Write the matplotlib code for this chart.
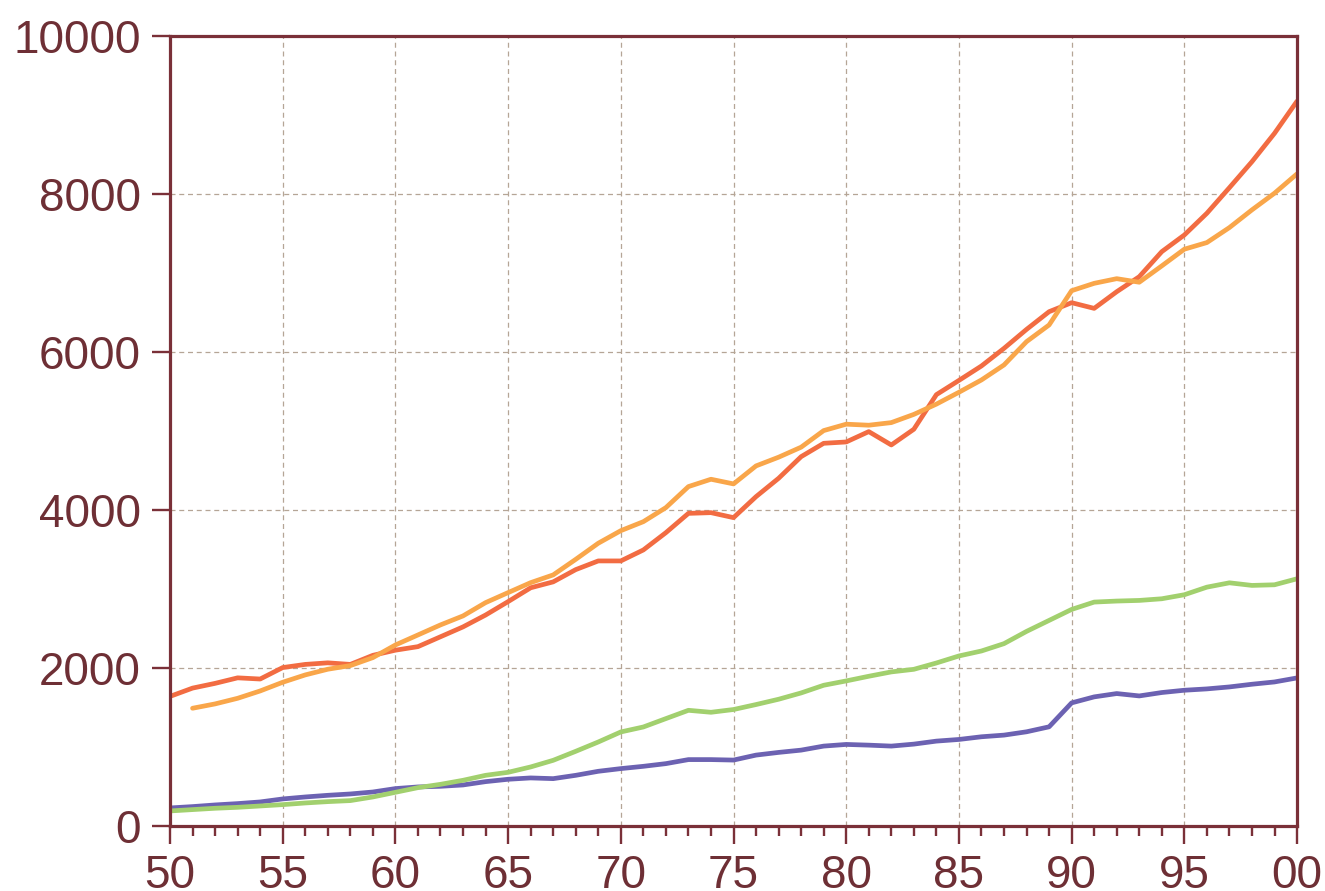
import matplotlib
matplotlib.use("Agg")
import matplotlib.pyplot as plt
from matplotlib.ticker import MultipleLocator, FixedLocator

plt.rcParams['font.family'] = ['Liberation Sans', 'DejaVu Sans']

years = list(range(1950, 2001))
years_orange = list(range(1951, 2001))

red_series = [1640, 1745, 1805, 1875, 1860, 2005, 2045, 2065, 2045, 2160,
              2225, 2270, 2395, 2520, 2670, 2840, 3015, 3090, 3245, 3355,
              3355, 3494, 3713, 3957, 3966, 3903, 4169, 4401, 4675, 4844,
              4861, 4992, 4823, 5022, 5460, 5640, 5823, 6046, 6286, 6510,
              6624, 6552, 6763, 6953, 7270, 7481, 7756, 8080, 8409, 8768,
              9175]

orange_series = [1490, 1545, 1616, 1709, 1819, 1912, 1984, 2030, 2131,
                 2291, 2418, 2545, 2659, 2827, 2954, 3080, 3178, 3375, 3579,
                 3738, 3852, 4030, 4296, 4389, 4330, 4558, 4668, 4795, 5005,
                 5086, 5073, 5106, 5210, 5340, 5490, 5646, 5836, 6131, 6342,
                 6776, 6869, 6928, 6883, 7090, 7301, 7385, 7575, 7799, 8010,
                 8255]

green_series = [190, 207, 224, 236, 253, 270, 291, 308, 321, 367,
                426, 485, 527, 578, 641, 679, 747, 831, 945, 1063,
                1190, 1253, 1359, 1464, 1439, 1474, 1537, 1604, 1684, 1781,
                1836, 1895, 1950, 1983, 2063, 2152, 2215, 2308, 2463, 2602,
                2741, 2834, 2847, 2855, 2876, 2927, 3023, 3078, 3045, 3053,
                3129]

purple_series = [228, 245, 266, 283, 304, 342, 367, 388, 405, 430,
                 473, 494, 502, 519, 561, 591, 608, 599, 641, 692,
                 726, 755, 789, 840, 840, 834, 897, 931, 960, 1011,
                 1032, 1023, 1011, 1036, 1074, 1095, 1129, 1150, 1192, 1255,
                 1558, 1634, 1676, 1646, 1689, 1718, 1735, 1760, 1794, 1823,
                 1874]

x_ticks = list(range(1950, 2001, 5))
x_tick_labels = ["50", "55", "60", "65", "70", "75", "80", "85", "90", "95", "00"]
y_ticks = [0, 2000, 4000, 6000, 8000, 10000]
y_tick_labels = ["0", "2000", "4000", "6000", "8000", "10000"]

axis_color = "#7A3038"
text_color = "#6E2F35"
grid_color = "#B5A596"

fig = plt.figure(figsize=(13.25, 8.91), dpi=100)
ax = fig.add_axes([0.1283, 0.0730, 0.9789 - 0.1283, 0.9596 - 0.0730])

lw = 3.4
ax.plot(years, purple_series, color="#6C62B2", lw=lw, solid_capstyle="round", solid_joinstyle="round")
ax.plot(years, green_series, color="#A2D06E", lw=lw, solid_capstyle="round", solid_joinstyle="round")
ax.plot(years, red_series, color="#F26C42", lw=lw, solid_capstyle="round", solid_joinstyle="round")
ax.plot(years_orange, orange_series, color="#F9A64A", lw=lw, solid_capstyle="round", solid_joinstyle="round")

ax.set_xlim(1950, 2000)
ax.set_ylim(0, 10000)

ax.xaxis.set_major_locator(FixedLocator(x_ticks))
ax.set_xticklabels(x_tick_labels)
ax.xaxis.set_minor_locator(MultipleLocator(1))
ax.yaxis.set_major_locator(FixedLocator(y_ticks))
ax.set_yticklabels(y_tick_labels)

ax.grid(True, which="major", color=grid_color, linestyle=(0, (4, 3)), linewidth=0.9)

for s in ax.spines.values():
    s.set_color(axis_color)
    s.set_linewidth(2.3)

ax.tick_params(axis="x", which="major", direction="out", length=13, width=1.7,
               color=axis_color, labelcolor=text_color, labelsize=33, pad=7,
               top=False)
ax.tick_params(axis="x", which="minor", direction="out", length=7.5, width=1.7,
               color=axis_color, top=False)
ax.tick_params(axis="y", which="major", direction="out", length=13, width=1.7,
               color=axis_color, labelcolor=text_color, labelsize=33, pad=8,
               right=False)

fig.savefig("out.png", dpi=100)
